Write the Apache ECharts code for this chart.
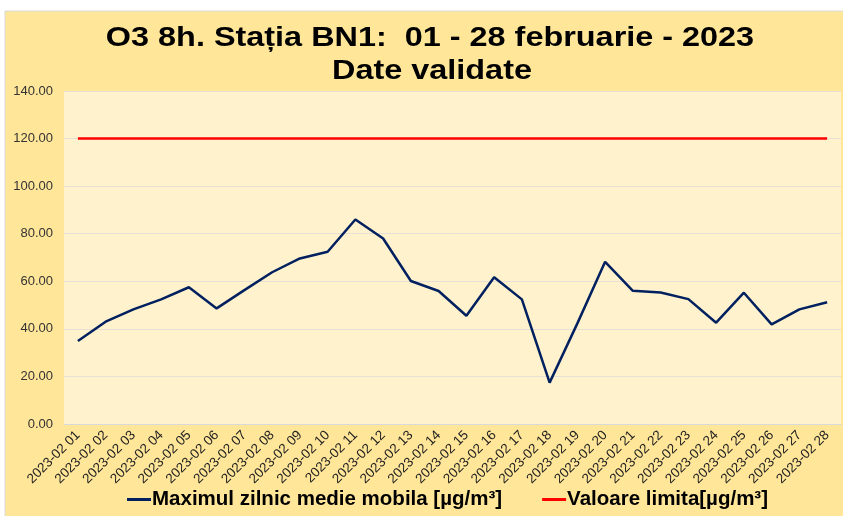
<!DOCTYPE html>
<html><head><meta charset="utf-8">
<script src="https://cdn.jsdelivr.net/npm/echarts@6/dist/echarts.min.js"></script>
<style>html,body{margin:0;padding:0;background:#fff;}#c{width:843px;height:516px;}</style>
</head><body><div id="c"></div>
<script>
var categories = ["2023-02 01","2023-02 02","2023-02 03","2023-02 04","2023-02 05","2023-02 06","2023-02 07","2023-02 08","2023-02 09","2023-02 10","2023-02 11","2023-02 12","2023-02 13","2023-02 14","2023-02 15","2023-02 16","2023-02 17","2023-02 18","2023-02 19","2023-02 20","2023-02 21","2023-02 22","2023-02 23","2023-02 24","2023-02 25","2023-02 26","2023-02 27","2023-02 28"];
var maxValues = [34.9,43.0,48.2,52.4,57.5,48.6,56.3,63.8,69.6,72.4,86.0,78.0,60.1,55.9,45.5,61.7,52.4,17.4,42.3,68.2,56.0,55.3,52.5,42.6,55.2,41.9,48.2,51.2];
var limitValues = [120,120,120,120,120,120,120,120,120,120,120,120,120,120,120,120,120,120,120,120,120,120,120,120,120,120,120,120];
var yTicks = {min:0, max:140, interval:20};
var titleLines = ["O3 8h. Stația BN1:  01 - 28 februarie - 2023", "Date validate"];
var seriesNames = ["Maximul zilnic medie mobila [µg/m³]", "Valoare limita[µg/m³]"];

var titleFont = 'bold 27px "Liberation Sans"';
var chart = echarts.init(document.getElementById('c'));
chart.setOption({
  backgroundColor: '#ffffff',
  animation: false,
  graphic: [
    {type:'rect', z:-10, shape:{x:5, y:11, width:845, height:510}, style:{fill:'#FFE699', stroke:'#d9d9d9', lineWidth:1}},
    {type:'text', x:430, y:39, scaleX:1.2, style:{text:titleLines[0], font:titleFont, fill:'#000', align:'center', verticalAlign:'middle'}},
    {type:'text', x:432, y:72, scaleX:1.2, style:{text:titleLines[1], font:titleFont, fill:'#000', align:'center', verticalAlign:'middle'}}
  ],
  legend: {
    bottom: 1, left: 122, itemGap: 40, itemWidth: 24, itemHeight: 3,
    icon: 'rect',
    textStyle: {fontFamily:'Liberation Sans', fontWeight:'bold', fontSize:20.5, color:'#000', padding:[0,0,0,-4]},
    data: seriesNames
  },
  grid: {left:64, right:2, top:91, bottom:92, show:true, backgroundColor:'#FFF2CC', borderWidth:0, containLabel:false},
  xAxis: {
    type:'category', data:categories, boundaryGap:true,
    axisLine:{lineStyle:{color:'#d9d9d9'}}, axisTick:{show:false},
    axisLabel:{rotate:45, fontFamily:'Liberation Sans', fontSize:13.5, color:'#222', margin:9, interval:0}
  },
  yAxis: {
    type:'value', min:yTicks.min, max:yTicks.max, interval:yTicks.interval,
    axisLine:{show:false}, axisTick:{show:false},
    splitLine:{lineStyle:{color:'#e6e0d6', width:1}},
    axisLabel:{formatter:function(v){return v.toFixed(2);}, fontFamily:'Liberation Sans', fontSize:13, color:'#333', margin:11}
  },
  series: [
    {name:seriesNames[0], type:'line', data:maxValues, symbol:'none', lineStyle:{color:'#002060', width:2.5}, itemStyle:{color:'#002060'}},
    {name:seriesNames[1], type:'line', data:limitValues, symbol:'none', lineStyle:{color:'#FF0000', width:2.5}, itemStyle:{color:'#FF0000'}}
  ]
});
</script></body></html>
